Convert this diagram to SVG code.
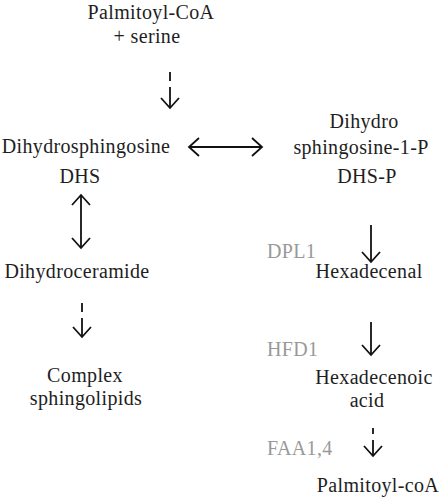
<svg xmlns="http://www.w3.org/2000/svg" width="439" height="500" viewBox="0 0 439 500">
<defs>
<style>
.t{fill:#1e1e1e;text-anchor:middle}
.e{fill:#999;text-anchor:start}
.c{stroke:#111;stroke-width:1.8;fill:none}
</style>
<marker id="ah" markerUnits="userSpaceOnUse" markerWidth="30" markerHeight="30" refX="12" refY="12" orient="auto-start-reverse" overflow="visible">
<path d="M2,3 L12,12 L2,21" fill="none" stroke="#111" stroke-width="1.8"/>
</marker>
</defs>
<rect width="439" height="500" fill="#fff"/>
<g id="connectors">
<path class="c" d="M170,72 V81"/>
<path class="c" d="M170,87 V108" marker-end="url(#ah)"/>
<path class="c" d="M189,147 H262" marker-start="url(#ah)" marker-end="url(#ah)"/>
<path class="c" d="M81,195 V248" marker-start="url(#ah)" marker-end="url(#ah)"/>
<path class="c" d="M82,303 V312"/>
<path class="c" d="M82,318 V337" marker-end="url(#ah)"/>
<path class="c" d="M371,225 V262" marker-end="url(#ah)"/>
<path class="c" d="M371,322 V355" marker-end="url(#ah)"/>
<path class="c" d="M373,428 V434"/>
<path class="c" d="M373,440 V456" marker-end="url(#ah)"/>
</g>
<g font-family="'Liberation Serif', 'DejaVu Serif', serif" font-size="20" letter-spacing="0.35">
<g id="palmitoyl-serine"><text class="t" x="151" y="19">Palmitoyl-CoA</text><text class="t" x="147" y="43">+ serine</text></g>
<g id="dhs"><text class="t" x="86" y="153">Dihydrosphingosine</text><text class="t" x="80" y="183">DHS</text></g>
<g id="dhs-p"><text class="t" x="364" y="128">Dihydro</text><text class="t" x="361" y="154">sphingosine-1-P</text><text class="t" x="367" y="183">DHS-P</text></g>
<g id="dihydroceramide"><text class="t" x="77" y="278">Dihydroceramide</text></g>
<g id="complex"><text class="t" x="85" y="382">Complex</text><text class="t" x="86" y="405">sphingolipids</text></g>
<g id="hexadecenal"><text class="t" x="369" y="278">Hexadecenal</text></g>
<g id="hexadecenoic"><text class="t" x="374" y="384">Hexadecenoic</text><text class="t" x="367" y="407">acid</text></g>
<g id="palmitoyl-coa"><text class="t" x="378" y="492">Palmitoyl-coA</text></g>
<g id="enzymes"><text class="e" x="267" y="258">DPL1</text><text class="e" x="267" y="356">HFD1</text><text class="e" x="267" y="455">FAA1,4</text></g>
</g>
</svg>
